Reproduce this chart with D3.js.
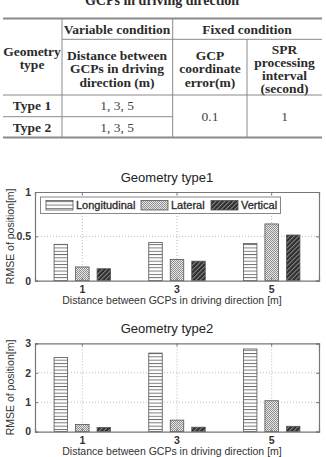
<!DOCTYPE html>
<html>
<head>
<meta charset="utf-8">
<script src="https://cdn.jsdelivr.net/npm/d3@7"></script>
<style>
  body { margin: 0; background: #fff; }
  svg { display: block; }
</style>
</head>
<body>
<svg id="fig" width="326" height="457"></svg>
<script>
// ---- data ----
var categories = ["1", "3", "5"];
var seriesNames = ["Longitudinal", "Lateral", "Vertical"];

var type1Longitudinal = [0.41, 0.43, 0.42];
var type1Lateral = [0.155, 0.24, 0.64];
var type1Vertical = [0.135, 0.22, 0.515];
var type1Ticks = [0, 0.5, 1];

var type2Longitudinal = [2.52, 2.67, 2.81];
var type2Lateral = [0.245, 0.39, 1.05];
var type2Vertical = [0.14, 0.15, 0.18];
var type2Ticks = [0, 1, 2, 3];

var tableCaption = "GCPs in driving direction";
var tableRowNames = ["Type 1", "Type 2"];
var tableDistances = ["1, 3, 5", "1, 3, 5"];
var tableGcpError = "0.1";
var tableSprInterval = "1";

var svg = d3.select("#fig");
var defs = svg.append("defs");

// fill patterns
var p1 = defs.append("pattern").attr("id", "pLong")
    .attr("patternUnits", "userSpaceOnUse").attr("width", 4).attr("height", 3.3);
p1.append("rect").attr("width", 4).attr("height", 3.3).attr("fill", "#fff");
p1.append("rect").attr("y", 0).attr("width", 4).attr("height", 0.9).attr("fill", "#6a6a6a");

var p2 = defs.append("pattern").attr("id", "pLat")
    .attr("patternUnits", "userSpaceOnUse").attr("width", 2).attr("height", 2);
p2.append("rect").attr("width", 2).attr("height", 2).attr("fill", "#e8e8e8");
p2.append("rect").attr("width", 1).attr("height", 1).attr("fill", "#8e8e8e");
p2.append("rect").attr("x", 1).attr("y", 1).attr("width", 1).attr("height", 1).attr("fill", "#8e8e8e");

var p3 = defs.append("pattern").attr("id", "pVert")
    .attr("patternUnits", "userSpaceOnUse").attr("width", 3.2).attr("height", 3.2)
    .attr("patternTransform", "rotate(45)");
p3.append("rect").attr("width", 3.2).attr("height", 3.2).attr("fill", "#2e2e2e");
p3.append("rect").attr("width", 1).attr("height", 3.2).attr("fill", "#8c8c8c");

var fills = { Longitudinal: "url(#pLong)", Lateral: "url(#pLat)", Vertical: "url(#pVert)" };

// ---- table ----
var serif = "'Liberation Serif', 'Times New Roman', serif";
var tbl = svg.append("g").attr("font-family", serif).attr("fill", "#2b2b2b");

// caption: its upper part lies above the picture, as in the source
tbl.append("text").attr("x", 162).attr("y", 5).attr("text-anchor", "middle")
    .attr("font-size", 14).attr("font-weight", "bold").text(tableCaption);

var colX = [3, 62, 172.7, 247, 322];
var rowY = [18.5, 39.3, 95, 116.7, 137.5];
var lineCol = "#8a8a8a";
function hline(x1, x2, y, w) {
    tbl.append("line").attr("x1", x1).attr("x2", x2).attr("y1", y).attr("y2", y)
        .attr("stroke", lineCol).attr("stroke-width", w || 1);
}
function vline(x, y1, y2) {
    tbl.append("line").attr("x1", x).attr("x2", x).attr("y1", y1).attr("y2", y2)
        .attr("stroke", lineCol).attr("stroke-width", 1);
}
hline(colX[0], colX[4], rowY[0], 2.2);
hline(colX[1], colX[4], rowY[1]);
hline(colX[0], colX[4], rowY[2], 1.2);
hline(colX[0], colX[2], rowY[3]);
hline(colX[0], colX[4], rowY[4], 2);
vline(colX[1], rowY[0], rowY[4]);
vline(colX[2], rowY[0], rowY[4]);
vline(colX[3], rowY[1], rowY[4]);

function cellText(lines, cx, cy, bold, lh) {
    lh = lh || 13.5;
    var t = tbl.append("text").attr("text-anchor", "middle")
        .attr("font-size", 13.5).attr("font-weight", bold ? "bold" : "normal");
    if (!bold) t.attr("fill", "#444");
    var y0 = cy - (lines.length - 1) * lh / 2 + 4.5;
    lines.forEach(function (s, i) {
        t.append("tspan").attr("x", cx).attr("y", y0 + i * lh).text(s);
    });
}
cellText(["Variable condition"], 117, 29.5, true);
cellText(["Fixed condition"], 247, 29.5, true);
cellText(["Geometry", "type"], 32, 58, true, 12.5);
cellText(["Distance between", "GCPs in driving", "direction (m)"], 117, 68.5, true);
cellText(["GCP", "coordinate", "error(m)"], 210, 68.5, true);
cellText(["SPR", "processing", "interval", "(second)"], 284.5, 68.5, true, 13);
tableRowNames.forEach(function (r, i) {
    var cy = (rowY[2 + i] + rowY[3 + i]) / 2;
    cellText([r], 32, cy, true);
    cellText([tableDistances[i]], 117, cy, false);
});
cellText([tableGcpError], 210, (rowY[2] + rowY[4]) / 2, false);
cellText([tableSprInterval], 284.5, (rowY[2] + rowY[4]) / 2, false);

// ---- bar charts ----
var sans = "'Liberation Sans', Arial, sans-serif";
var left = 35, right = 319;

function drawChart(title, top, bottom, ticks, long, lat, vert, withLegend) {
    var g = svg.append("g").attr("font-family", sans);
    var values = { Longitudinal: long, Lateral: lat, Vertical: vert };

    var x = d3.scaleBand().domain(categories).range([left, right]).padding(0);
    var xSub = d3.scaleBand().domain(seriesNames).range([0, x.bandwidth()])
        .paddingInner(0.372).paddingOuter(0.888);
    var y = d3.scaleLinear().domain([0, d3.max(ticks)]).range([bottom, top]);

    // grid
    g.append("g").selectAll("line").data(ticks.slice(1, -1)).join("line")
        .attr("x1", left).attr("x2", right)
        .attr("y1", function (d) { return y(d); }).attr("y2", function (d) { return y(d); })
        .attr("stroke", "#aaa").attr("stroke-width", 0.8).attr("stroke-dasharray", "1,2");
    g.append("g").selectAll("line").data(categories).join("line")
        .attr("x1", function (d) { return x(d) + x.bandwidth() / 2; })
        .attr("x2", function (d) { return x(d) + x.bandwidth() / 2; })
        .attr("y1", top).attr("y2", bottom)
        .attr("stroke", "#aaa").attr("stroke-width", 0.8).attr("stroke-dasharray", "1,2");

    // bars
    var rows = [];
    categories.forEach(function (c, i) {
        seriesNames.forEach(function (s) { rows.push({ cat: c, series: s, value: values[s][i] }); });
    });
    g.append("g").selectAll("rect").data(rows).join("rect")
        .attr("x", function (d) { return x(d.cat) + xSub(d.series); })
        .attr("width", xSub.bandwidth())
        .attr("y", function (d) { return y(d.value); })
        .attr("height", function (d) { return y(0) - y(d.value); })
        .attr("fill", function (d) { return fills[d.series]; })
        .attr("stroke", "#555").attr("stroke-width", 0.8);

    // axes (ticks inward, box around)
    var axL = d3.axisLeft(y).tickValues(ticks).tickSize(-3).tickPadding(4)
        .tickFormat(d3.format("~g"));
    var axR = d3.axisRight(y).tickValues(ticks).tickSize(-3).tickFormat("");
    var axB = d3.axisBottom(x).tickSize(-3).tickPadding(5);
    var axT = d3.axisTop(x).tickSize(-3).tickFormat("");
    [[axL, "translate(" + left + ",0)"], [axR, "translate(" + right + ",0)"],
     [axB, "translate(0," + bottom + ")"], [axT, "translate(0," + top + ")"]].forEach(function (a) {
        var ag = g.append("g").attr("transform", a[1]).call(a[0]);
        ag.select(".domain").attr("stroke", "#777").attr("stroke-width", 1.2);
        ag.selectAll(".tick line").attr("stroke", "#777");
        ag.selectAll("text").attr("font-family", sans).attr("font-size", 10.5)
            .attr("font-weight", "bold").attr("fill", "#333");
    });

    // titles
    g.append("text").attr("x", 167).attr("y", top - 10).attr("text-anchor", "middle")
        .attr("font-size", 13).attr("fill", "#222").text(title);
    g.append("text").attr("x", 172).attr("y", bottom + 23).attr("text-anchor", "middle")
        .attr("font-size", 10.5).attr("fill", "#333")
        .text("Distance between GCPs in driving direction [m]");
    g.append("text").attr("transform", "translate(14," + ((top + bottom) / 2) + ") rotate(-90)")
        .attr("text-anchor", "middle").attr("font-size", 10.5).attr("fill", "#333")
        .text("RMSE of position[m]");

    if (withLegend) {
        var lg = g.append("g");
        lg.append("rect").attr("x", 40.5).attr("y", 197).attr("width", 240).attr("height", 16.5)
            .attr("fill", "#fff").attr("stroke", "#888").attr("stroke-width", 1);
        var lx = [46, 141, 211];
        seriesNames.forEach(function (s, i) {
            lg.append("rect").attr("x", lx[i]).attr("y", 200.5).attr("width", 27).attr("height", 9.5)
                .attr("fill", fills[s]).attr("stroke", "#555").attr("stroke-width", 0.8);
            lg.append("text").attr("x", lx[i] + 30).attr("y", 209.3).attr("font-size", 11)
                .attr("fill", "#222").attr("stroke", "#333").attr("stroke-width", 0.3)
                .text(s);
        });
    }
}

drawChart("Geometry type1", 192, 280.7, type1Ticks, type1Longitudinal, type1Lateral, type1Vertical, true);
drawChart("Geometry type2", 343.4, 431.6, type2Ticks, type2Longitudinal, type2Lateral, type2Vertical, false);
</script>
</body>
</html>
